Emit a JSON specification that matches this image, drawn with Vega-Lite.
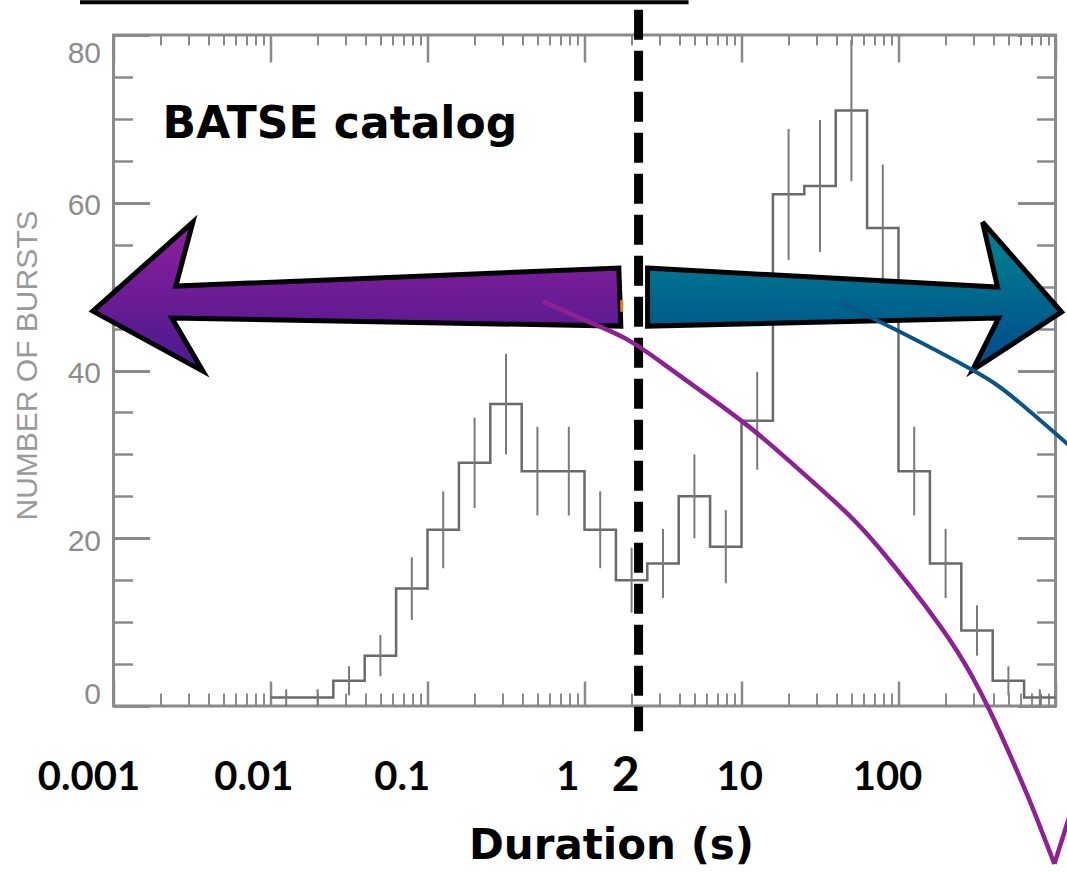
{
  "$schema": "https://vega.github.io/schema/vega-lite/v6.json",
  "width": 942,
  "height": 671,
  "autosize": {"type": "none"},
  "padding": {"left": 113.5, "top": 35, "right": 11.5, "bottom": 167},
  "background": "white",
  "config": {
    "view": {"stroke": "#8a8a8a", "strokeWidth": 3},
    "axis": {"grid": false, "domain": false, "tickColor": "#8a8a8a", "tickWidth": 2.5}
  },
  "datasets": {
    "hist": [
      {"d": 0.01, "n": 1}, {"d": 0.01585, "n": 1}, {"d": 0.02512, "n": 3}, {"d": 0.03981, "n": 6},
      {"d": 0.0631, "n": 14}, {"d": 0.1, "n": 21}, {"d": 0.1585, "n": 29}, {"d": 0.2512, "n": 36},
      {"d": 0.3981, "n": 28}, {"d": 0.631, "n": 28}, {"d": 1, "n": 21}, {"d": 1.585, "n": 15},
      {"d": 2.512, "n": 17}, {"d": 3.981, "n": 25}, {"d": 6.31, "n": 19}, {"d": 10, "n": 34},
      {"d": 15.85, "n": 61}, {"d": 25.12, "n": 62}, {"d": 39.81, "n": 71}, {"d": 63.1, "n": 57},
      {"d": 100, "n": 28}, {"d": 158.5, "n": 17}, {"d": 251.2, "n": 9}, {"d": 398.1, "n": 3},
      {"d": 631, "n": 1}, {"d": 1000, "n": 1}
    ],
    "errs": [
      {"dc": 0.01259, "lo": 0, "hi": 2}, {"dc": 0.01995, "lo": 0, "hi": 2},
      {"dc": 0.03162, "lo": 1.27, "hi": 4.73}, {"dc": 0.05012, "lo": 3.55, "hi": 8.45},
      {"dc": 0.07943, "lo": 10.26, "hi": 17.74}, {"dc": 0.1259, "lo": 16.42, "hi": 25.58},
      {"dc": 0.1995, "lo": 23.61, "hi": 34.39}, {"dc": 0.3162, "lo": 30, "hi": 42},
      {"dc": 0.5012, "lo": 22.71, "hi": 33.29}, {"dc": 0.7943, "lo": 22.71, "hi": 33.29},
      {"dc": 1.259, "lo": 16.42, "hi": 25.58}, {"dc": 1.995, "lo": 11.13, "hi": 18.87},
      {"dc": 3.162, "lo": 12.88, "hi": 21.12}, {"dc": 5.012, "lo": 20, "hi": 30},
      {"dc": 7.943, "lo": 14.64, "hi": 23.36}, {"dc": 12.59, "lo": 28.17, "hi": 39.83},
      {"dc": 19.95, "lo": 53.19, "hi": 68.81}, {"dc": 31.62, "lo": 54.13, "hi": 69.87},
      {"dc": 50.12, "lo": 62.57, "hi": 79.43}, {"dc": 79.43, "lo": 49.45, "hi": 64.55},
      {"dc": 125.9, "lo": 22.71, "hi": 33.29}, {"dc": 199.5, "lo": 12.88, "hi": 21.12},
      {"dc": 316.2, "lo": 6, "hi": 12}, {"dc": 501.2, "lo": 1.27, "hi": 4.73},
      {"dc": 794.3, "lo": 0, "hi": 2}
    ],
    "cut": [{"d": 2.21, "top": 83.0, "bottom": -3.0}],
    "topline": [{"x1": 0.000612, "x2": 4.6, "y": 83.9}],
    "purpleArrow": [{"d": 0.03548, "n": 48.87}],
    "blueArrow": [{"d": 52.5, "n": 48.87}],
    "purpleCurve": [
      {"seg": "a", "d": 0.542, "n": 48.27}, {"seg": "a", "d": 1.002, "n": 46.01},
      {"seg": "a", "d": 1.855, "n": 43.74}, {"seg": "a", "d": 3.33, "n": 40.52},
      {"seg": "a", "d": 6.0, "n": 37.07}, {"seg": "a", "d": 11.25, "n": 33.25},
      {"seg": "a", "d": 20.2, "n": 29.2}, {"seg": "a", "d": 42.1, "n": 23.84},
      {"seg": "a", "d": 75.6, "n": 18.8}, {"seg": "a", "d": 182.4, "n": 9.65},
      {"seg": "a", "d": 295.8, "n": 3.46}, {"seg": "a", "d": 379.6, "n": -0.48},
      {"seg": "a", "d": 487.3, "n": -4.89}, {"seg": "a", "d": 653, "n": -10.37},
      {"seg": "a", "d": 826, "n": -15.14}, {"seg": "a", "d": 984, "n": -18.83},
      {"seg": "b", "d": 984, "n": -18.83}, {"seg": "b", "d": 1262, "n": -12.4}
    ],
    "blueCurve": [
      {"d": 43.35, "n": 48.03}, {"d": 97.0, "n": 44.82}, {"d": 295.8, "n": 40.05},
      {"d": 563.6, "n": 36.47}, {"d": 1172, "n": 31.35}, {"d": 1419, "n": 30.0}
    ],
    "orange": [{"d": 1.725, "a": 47.0, "b": 48.4}],
    "note": [{"t": "BATSE catalog", "d": 0.02767, "n": 67.7}],
    "xlabels": [
      {"t": "0.001", "d": 0.000698, "n": -10.0},
      {"t": "0.01", "d": 0.007836, "n": -10.0},
      {"t": "0.1", "d": 0.06913, "n": -10.0},
      {"t": "1", "d": 0.7819, "n": -10.0},
      {"t": "10", "d": 9.73, "n": -10.0},
      {"t": "100", "d": 85.1, "n": -10.0}
    ],
    "cutlabel": [{"t": "2", "d": 1.829, "n": -10.1}]
  },
  "resolve": {"axis": {"x": "independent", "y": "independent"}},
  "layer": [
    {
      "data": {"name": "hist"},
      "mark": {"type": "line", "interpolate": "step-after", "stroke": "#6a6a6a", "strokeWidth": 2.5},
      "encoding": {
        "x": {"field": "d", "type": "quantitative",
              "scale": {"type": "log", "domain": [0.001, 1000], "nice": false},
              "axis": {"orient": "bottom", "values": [0.001, 0.01, 0.1, 1, 10, 100, 1000], "labels": false,
                       "tickSize": -25, "title": "Duration (s)", "titleFont": "DejaVu Sans", "titleFontSize": 42,
                       "titleFontWeight": "bold", "titleColor": "#000000", "titleX": 497.5, "titleY": 152,
                       "titleAlign": "center", "titleBaseline": "alphabetic", "titleAngle": 0}},
        "y": {"field": "n", "type": "quantitative",
              "scale": {"domain": [0, 80], "nice": false, "zero": false},
              "axis": {"orient": "left", "values": [0, 20, 40, 60, 80], "ticks": false, "tickSize": 0,
                       "labelPadding": 13, "labelOffset": 3, "labelFont": "Liberation Sans", "labelFontSize": 30,
                       "labelColor": "#8c8c8c", "labelFlush": true,
                       "title": "NUMBER OF BURSTS", "titleFont": "Liberation Sans", "titleFontSize": 30,
                       "titleFontWeight": "normal", "titleColor": "#9a9a9a", "titleX": -86.5, "titleY": 330,
                       "titleAngle": 270, "titleAlign": "center", "titleBaseline": "middle"}}
      }
    },
    {
      "data": {"name": "errs"},
      "mark": {"type": "rule", "stroke": "#7a7a7a", "strokeWidth": 2},
      "encoding": {
        "x": {"field": "dc", "type": "quantitative",
              "scale": {"type": "log", "domain": [0.001, 1000], "nice": false},
              "axis": {"orient": "top", "values": [0.001, 0.01, 0.1, 1, 10, 100, 1000], "labels": false,
                       "tickSize": -27, "title": null}},
        "y": {"field": "lo", "type": "quantitative",
              "scale": {"domain": [0, 80], "nice": false, "zero": false},
              "axis": {"orient": "left", "values": [0, 20, 40, 60, 80], "labels": false, "tickSize": -36,
                       "tickWidth": 3, "title": null}},
        "y2": {"field": "hi"}
      }
    },
    {
      "data": {"name": "cut"},
      "mark": {"type": "rule", "stroke": "#000000", "strokeWidth": 9, "strokeDash": [30, 11]},
      "encoding": {
        "x": {"field": "d", "type": "quantitative",
              "scale": {"type": "log", "domain": [0.001, 1000], "nice": false},
              "axis": {"orient": "bottom",
                       "values": [0.002, 0.003, 0.004, 0.005, 0.006, 0.007, 0.008, 0.009,
                                  0.02, 0.03, 0.04, 0.05, 0.06, 0.07, 0.08, 0.09,
                                  0.2, 0.3, 0.4, 0.5, 0.6, 0.7, 0.8, 0.9,
                                  2, 3, 4, 5, 6, 7, 8, 9,
                                  20, 30, 40, 50, 60, 70, 80, 90,
                                  200, 300, 400, 500, 600, 700, 800, 900],
                       "labels": false, "tickSize": -13, "tickWidth": 2, "title": null}},
        "y": {"field": "top", "type": "quantitative",
              "scale": {"domain": [0, 80], "nice": false, "zero": false},
              "axis": {"orient": "left", "values": [5, 10, 15, 25, 30, 35, 45, 50, 55, 65, 70, 75],
                       "labels": false, "tickSize": -19, "tickWidth": 2.5, "title": null}},
        "y2": {"field": "bottom"}
      }
    },
    {
      "data": {"name": "topline"},
      "mark": {"type": "rule", "stroke": "#000000", "strokeWidth": 4},
      "encoding": {
        "x": {"field": "x1", "type": "quantitative",
              "scale": {"type": "log", "domain": [0.001, 1000], "nice": false},
              "axis": {"orient": "top",
                       "values": [0.002, 0.003, 0.004, 0.005, 0.006, 0.007, 0.008, 0.009,
                                  0.02, 0.03, 0.04, 0.05, 0.06, 0.07, 0.08, 0.09,
                                  0.2, 0.3, 0.4, 0.5, 0.6, 0.7, 0.8, 0.9,
                                  2, 3, 4, 5, 6, 7, 8, 9,
                                  20, 30, 40, 50, 60, 70, 80, 90,
                                  200, 300, 400, 500, 600, 700, 800, 900],
                       "labels": false, "tickSize": -10, "tickWidth": 2, "title": null}},
        "x2": {"field": "x2"},
        "y": {"field": "y", "type": "quantitative",
              "scale": {"domain": [0, 80], "nice": false, "zero": false},
              "axis": {"orient": "right", "values": [0, 20, 40, 60, 80], "labels": false, "tickSize": -38,
                       "tickWidth": 3, "title": null}}
      }
    },
    {
      "data": {"name": "purpleArrow"},
      "mark": {"type": "point", "filled": true, "opacity": 1, "size": 40000,
               "shape": "M-2.64,0.15L-1.64,-0.74L-1.81,-0.10L2.62,-0.28L2.64,0.30L-1.85,0.22L-1.54,0.75Z",
               "fill": {"gradient": "linear", "x1": 0, "y1": 0, "x2": 0, "y2": 1,
                        "stops": [{"offset": 0, "color": "#901ea0"}, {"offset": 1, "color": "#471a8a"}]},
               "stroke": "#000000", "strokeWidth": 5, "strokeJoin": "miter"},
      "encoding": {
        "x": {"field": "d", "type": "quantitative",
              "scale": {"type": "log", "domain": [0.001, 1000], "nice": false}, "axis": null},
        "y": {"field": "n", "type": "quantitative",
              "scale": {"domain": [0, 80], "nice": false, "zero": false},
              "axis": {"orient": "right", "values": [5, 10, 15, 25, 30, 35, 45, 50, 55, 65, 70, 75],
                       "labels": false, "tickSize": -19, "tickWidth": 2.5, "title": null}}
      }
    },
    {
      "data": {"name": "blueArrow"},
      "mark": {"type": "point", "filled": true, "opacity": 1, "size": 40000,
               "shape": "M-2.07,-0.28L1.43,-0.09L1.28,-0.74L2.07,0.16L1.18,0.74L1.44,0.22L-2.07,0.30Z",
               "fill": {"gradient": "linear", "x1": 0, "y1": 0, "x2": 0, "y2": 1,
                        "stops": [{"offset": 0, "color": "#00878f"}, {"offset": 1, "color": "#00488c"}]},
               "stroke": "#000000", "strokeWidth": 5, "strokeJoin": "miter"},
      "encoding": {
        "x": {"field": "d", "type": "quantitative",
              "scale": {"type": "log", "domain": [0.001, 1000], "nice": false}, "axis": null},
        "y": {"field": "n", "type": "quantitative",
              "scale": {"domain": [0, 80], "nice": false, "zero": false}, "axis": null}
      }
    },
    {
      "data": {"name": "orange"},
      "mark": {"type": "rule", "stroke": "#f07a20", "strokeWidth": 3},
      "encoding": {
        "x": {"field": "d", "type": "quantitative",
              "scale": {"type": "log", "domain": [0.001, 1000], "nice": false}, "axis": null},
        "y": {"field": "a", "type": "quantitative",
              "scale": {"domain": [0, 80], "nice": false, "zero": false}, "axis": null},
        "y2": {"field": "b"}
      }
    },
    {
      "data": {"name": "purpleCurve"},
      "mark": {"type": "line", "interpolate": "natural", "stroke": "#8c2294", "strokeWidth": 4.5},
      "encoding": {
        "x": {"field": "d", "type": "quantitative",
              "scale": {"type": "log", "domain": [0.001, 1000], "nice": false}, "axis": null},
        "y": {"field": "n", "type": "quantitative",
              "scale": {"domain": [0, 80], "nice": false, "zero": false}, "axis": null},
        "detail": {"field": "seg", "type": "nominal"}
      }
    },
    {
      "data": {"name": "blueCurve"},
      "mark": {"type": "line", "interpolate": "natural", "stroke": "#0b5586", "strokeWidth": 4},
      "encoding": {
        "x": {"field": "d", "type": "quantitative",
              "scale": {"type": "log", "domain": [0.001, 1000], "nice": false}, "axis": null},
        "y": {"field": "n", "type": "quantitative",
              "scale": {"domain": [0, 80], "nice": false, "zero": false}, "axis": null}
      }
    },
    {
      "data": {"name": "note"},
      "mark": {"type": "text", "font": "DejaVu Sans", "fontWeight": "bold", "fontSize": 44,
               "align": "center", "baseline": "alphabetic", "color": "#000000"},
      "encoding": {
        "x": {"field": "d", "type": "quantitative",
              "scale": {"type": "log", "domain": [0.001, 1000], "nice": false}, "axis": null},
        "y": {"field": "n", "type": "quantitative",
              "scale": {"domain": [0, 80], "nice": false, "zero": false}, "axis": null},
        "text": {"field": "t"}
      }
    },
    {
      "data": {"name": "xlabels"},
      "mark": {"type": "text", "font": "Lato", "fontWeight": "bold", "fontSize": 40,
               "align": "center", "baseline": "alphabetic", "color": "#000000"},
      "encoding": {
        "x": {"field": "d", "type": "quantitative",
              "scale": {"type": "log", "domain": [0.001, 1000], "nice": false}, "axis": null},
        "y": {"field": "n", "type": "quantitative",
              "scale": {"domain": [0, 80], "nice": false, "zero": false}, "axis": null},
        "text": {"field": "t"}
      }
    },
    {
      "data": {"name": "cutlabel"},
      "mark": {"type": "text", "font": "Lato", "fontWeight": "bold", "fontSize": 48,
               "align": "center", "baseline": "alphabetic", "color": "#000000"},
      "encoding": {
        "x": {"field": "d", "type": "quantitative",
              "scale": {"type": "log", "domain": [0.001, 1000], "nice": false}, "axis": null},
        "y": {"field": "n", "type": "quantitative",
              "scale": {"domain": [0, 80], "nice": false, "zero": false}, "axis": null},
        "text": {"field": "t"}
      }
    }
  ]
}
